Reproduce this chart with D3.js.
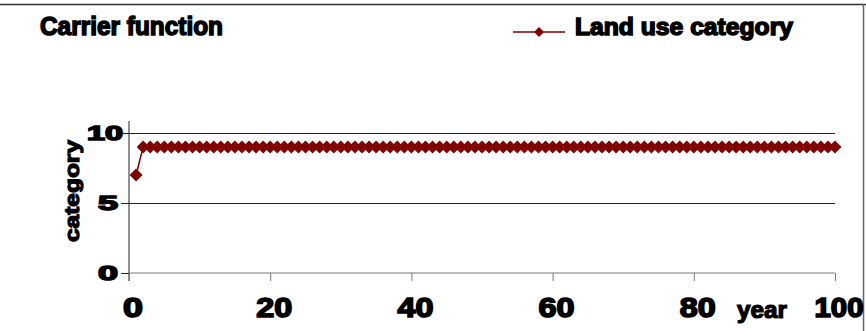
<!DOCTYPE html>
<html>
<head>
<meta charset="utf-8">
<script src="https://cdn.jsdelivr.net/npm/d3@7"></script>
<style>
  html, body { margin: 0; padding: 0; background: #fff; }
  svg { display: block; }
  text { font-family: "Liberation Sans", Arial, sans-serif; font-weight: bold; fill: #000; }
</style>
</head>
<body>
<svg id="chart" width="866" height="331"></svg>
<script>
// Land use category per simulation year
const years = [
  1, 2, 3, 4, 5, 6, 7, 8, 9, 10,
  11, 12, 13, 14, 15, 16, 17, 18, 19, 20,
  21, 22, 23, 24, 25, 26, 27, 28, 29, 30,
  31, 32, 33, 34, 35, 36, 37, 38, 39, 40,
  41, 42, 43, 44, 45, 46, 47, 48, 49, 50,
  51, 52, 53, 54, 55, 56, 57, 58, 59, 60,
  61, 62, 63, 64, 65, 66, 67, 68, 69, 70,
  71, 72, 73, 74, 75, 76, 77, 78, 79, 80,
  81, 82, 83, 84, 85, 86, 87, 88, 89, 90,
  91, 92, 93, 94, 95, 96, 97, 98, 99, 100
];
const landUseCategory = [
  7, 9, 9, 9, 9, 9, 9, 9, 9, 9,
  9, 9, 9, 9, 9, 9, 9, 9, 9, 9,
  9, 9, 9, 9, 9, 9, 9, 9, 9, 9,
  9, 9, 9, 9, 9, 9, 9, 9, 9, 9,
  9, 9, 9, 9, 9, 9, 9, 9, 9, 9,
  9, 9, 9, 9, 9, 9, 9, 9, 9, 9,
  9, 9, 9, 9, 9, 9, 9, 9, 9, 9,
  9, 9, 9, 9, 9, 9, 9, 9, 9, 9,
  9, 9, 9, 9, 9, 9, 9, 9, 9, 9,
  9, 9, 9, 9, 9, 9, 9, 9, 9, 9
];
const xTicks = [0, 20, 40, 60, 80, 100];
const yTicks = [0, 5, 10];
const titleText = "Carrier function";
const seriesName = "Land use category";
const xTitle = "year";
const yTitle = "category";

const svg = d3.select("#chart");
const color = "#800000";

const x = d3.scaleLinear().domain([0, 100]).range([129, 835]);
const y = d3.scaleLinear().domain([0, 10]).range([273, 133]);

// outer frame (top and right edges)
svg.append("line").attr("x1", 0).attr("x2", 866).attr("y1", 4.5).attr("y2", 4.5)
  .attr("stroke", "#333").attr("stroke-width", 1.5);
svg.append("line").attr("x1", 863.5).attr("x2", 863.5).attr("y1", 4).attr("y2", 331)
  .attr("stroke", "#666").attr("stroke-width", 1.5);

// horizontal gridlines
svg.append("g").selectAll("line").data(yTicks.filter(d => d > 0)).join("line")
  .attr("x1", x(0)).attr("x2", x(100))
  .attr("y1", d => Math.round(y(d)) + 0.5).attr("y2", d => Math.round(y(d)) + 0.5)
  .attr("stroke", "#222").attr("stroke-width", 1);

// y axis
const yAxis = d3.axisLeft(y).tickValues(yTicks).tickSize(8).tickFormat("");
const gy = svg.append("g").attr("transform", `translate(${x(0)},0)`).call(yAxis);
gy.select(".domain").attr("d", `M0,${y(10) - 12}V${y(0) + 8}`).attr("stroke", "#222");
gy.selectAll(".tick line").attr("stroke", "#222");

// x axis
const xAxis = d3.axisBottom(x).tickValues(xTicks).tickSize(8).tickFormat("");
const gx = svg.append("g").attr("transform", `translate(0,${y(0)})`).call(xAxis);
gx.select(".domain").attr("d", `M${x(0)},0H${x(100)}`).attr("stroke", "#777");
gx.selectAll(".tick line").attr("stroke", "#777");

// tick labels
const xLabelWidth = { "0": 20, "20": 36, "40": 36, "60": 36, "80": 36, "100": 49 };
svg.append("g").selectAll("text").data(xTicks).join("text")
  .attr("x", d => x(d) + 4)
  .attr("y", 317)
  .attr("text-anchor", "middle")
  .attr("font-size", 27)
  .attr("stroke", "#000").attr("stroke-width", 1.6)
  .attr("textLength", d => xLabelWidth[d])
  .attr("lengthAdjust", "spacingAndGlyphs")
  .text(d => d);

const yLabelWidth = { "0": 20, "5": 20, "10": 36 };
svg.append("g").selectAll("text").data(yTicks).join("text")
  .attr("x", d => d === 10 ? 123 : 118)
  .attr("y", d => y(d) + 7)
  .attr("text-anchor", "end")
  .attr("font-size", 20)
  .attr("stroke", "#000").attr("stroke-width", 1.5)
  .attr("textLength", d => yLabelWidth[d])
  .attr("lengthAdjust", "spacingAndGlyphs")
  .text(d => d);

// axis titles
svg.append("text")
  .attr("x", 737).attr("y", 318)
  .attr("font-size", 23)
  .attr("stroke", "#000").attr("stroke-width", 1.2)
  .attr("textLength", 50).attr("lengthAdjust", "spacingAndGlyphs")
  .text(xTitle);

svg.append("text")
  .attr("transform", "translate(79,242) rotate(-90)")
  .attr("font-size", 21)
  .attr("stroke", "#000").attr("stroke-width", 1.2)
  .attr("textLength", 102).attr("lengthAdjust", "spacingAndGlyphs")
  .text(yTitle);

// chart title
svg.append("text")
  .attr("x", 40).attr("y", 35)
  .attr("font-size", 25)
  .attr("stroke", "#000").attr("stroke-width", 1.5)
  .attr("textLength", 183).attr("lengthAdjust", "spacingAndGlyphs")
  .text(titleText);

// series line and markers
const diamond = r => `M0,${-r}L${r},0L0,${r}L${-r},0Z`;
const pts = years.map((yr, i) => [yr, landUseCategory[i]]);

svg.append("path")
  .datum(pts)
  .attr("fill", "none")
  .attr("stroke", color)
  .attr("stroke-width", 1.5)
  .attr("d", d3.line().x(d => x(d[0])).y(d => y(d[1])));

svg.append("g").selectAll("path").data(pts).join("path")
  .attr("transform", d => `translate(${x(d[0])},${y(d[1])})`)
  .attr("d", diamond(6.5))
  .attr("fill", color);

// legend
const lg = svg.append("g");
lg.append("line").attr("x1", 513).attr("x2", 565).attr("y1", 32).attr("y2", 32)
  .attr("stroke", color).attr("stroke-width", 1.5);
lg.append("path").attr("transform", "translate(539,32)").attr("d", diamond(5)).attr("fill", color);
lg.append("text")
  .attr("x", 575).attr("y", 35)
  .attr("font-size", 23)
  .attr("stroke", "#000").attr("stroke-width", 1.5)
  .attr("textLength", 218).attr("lengthAdjust", "spacingAndGlyphs")
  .text(seriesName);
</script>
</body>
</html>
